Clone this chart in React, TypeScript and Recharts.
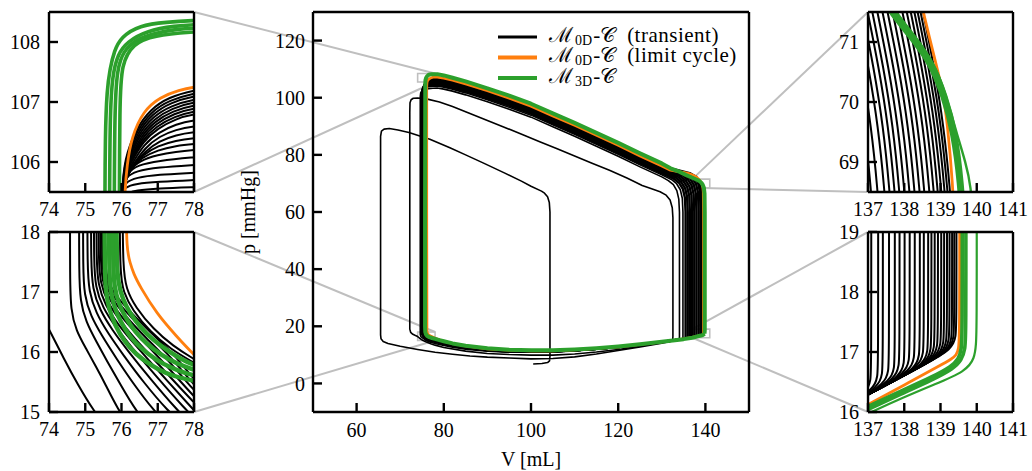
import React from 'react';
import { LineChart, Line, XAxis, YAxis, ReferenceArea, Label } from 'recharts';

type Pair = [number, number];

// ---- axes ----
const MAIN_V_DOMAIN: Pair = [50, 150];
const MAIN_P_DOMAIN: Pair = [-10, 130];
const MAIN_V_TICKS = [60, 80, 100, 120, 140];
const MAIN_P_TICKS = [0, 20, 40, 60, 80, 100, 120];

const TL_V: Pair = [74, 78];
const TL_P: Pair = [105.5, 108.5];
const BL_V: Pair = [74, 78];
const BL_P: Pair = [15, 18];
const TR_V: Pair = [137, 141];
const TR_P: Pair = [68.5, 71.5];
const BR_V: Pair = [137, 141];
const BR_P: Pair = [16, 19];

const LEFT_V_TICKS = [74, 75, 76, 77, 78];
const RIGHT_V_TICKS = [137, 138, 139, 140, 141];
const TL_P_TICKS = [106, 107, 108];
const BL_P_TICKS = [15, 16, 17, 18];
const TR_P_TICKS = [69, 70, 71];
const BR_P_TICKS = [16, 17, 18, 19];

// ---- main panel: transient beats of the 0D model, [V mL, p mmHg] ----
const beat01: Pair[] = [[100.5,6.8],[102.5,7.0],[103.8,7.3],[104.25,7.9],[104.35,9.5],[104.35,30],[104.35,60],[104.2,63.3],[103.8,65.3],[103.1,66.6],[102.4,67.3],[100,69.0],[97.8,70.8],[94,73.6],[89,77.2],[85,80.0],[81.4,82.5],[76.8,85.5],[72,87.8],[69.5,88.7],[67.5,89.2],[66.3,89.0],[65.7,88.3],[65.5,86.5],[65.5,50],[65.5,17],[65.6,15.6],[66.1,14.7],[67.2,14.0],[70,13.0],[74,11.9],[78,10.9],[82,10.2],[86,9.6],[90,9.2],[95,8.9],[100,8.6],[105,8.7],[110,9.3],[115,10.3],[120,11.5],[125,12.8],[130,14.1],[132.2,14.8],[132.5,15.3]];
const beat02: Pair[] = [[132.5,15.3],[132.55,16.5],[132.55,30],[132.55,58],[132.4,61.5],[131.9,64.2],[131,65.9],[129.6,67.1],[127.5,68.2],[125.5,69.3],[124,70.4],[122,71.9],[118,74.6],[114,77.1],[110,79.6],[106,82.1],[102,84.6],[98,87.1],[94,89.6],[90,92.0],[86,94.5],[82,96.9],[79,98.5],[76,99.6],[74,99.9],[73,99.8],[72.5,99.3],[72.25,98.2],[72.2,95],[72.2,40],[72.2,19],[72.4,17.9],[72.9,17.2],[73.5,16.75],[74,16.4],[74.4,15.9],[74.8,15.45],[75.25,15.0],[76,14.5],[77,13.9],[78,13.4],[80,12.6],[85,11.3],[90,10.5],[95,10.1],[100,9.9],[105,9.9],[110,10.3],[115,11.0],[120,11.9],[125,13.0],[130,14.3],[133.5,15.25],[134.0,15.4]];
const beat03: Pair[] = [[134.0,15.4],[134.05,16.2],[134.05,30],[134.05,60],[133.9,64.5],[133.45,67.5],[132.65,69.6],[131.5,71.0],[130,72.3],[125,75.8],[120,79.5],[115,83.0],[110,86.5],[105,89.8],[100,93.2],[95,96.0],[90,98.6],[85,101.0],[82,102.3],[80,103.0],[78.5,103.4],[77.5,103.3],[75.5,103.0],[75.0,102.5],[74.7,101.7],[74.6,100.4],[74.6,60],[74.6,18.5],[74.6,17.2],[74.75,16.35],[75.02,16.06],[75.54,15.48],[75.91,15.03],[77,14.4],[78,14.0],[80,13.3],[82,12.7],[85,12.0],[90,11.25],[95,10.95],[100,10.9],[105,11.02],[110,11.42],[115,12.0],[120,12.68],[125,13.54],[130,14.5],[134.3,15.45],[134.8,15.55]];
const beat04: Pair[] = [[134.8,15.55],[134.85,16.3],[134.85,60],[134.7,64.8],[134.25,67.8],[133.4,69.9],[132.2,71.4],[130,73.0],[125,76.5],[120,80.2],[115,83.7],[110,87.2],[105,90.5],[100,93.9],[95,96.7],[90,99.3],[85,101.7],[82,103.0],[80,103.7],[78.5,104.1],[77.5,104.0],[75.75,103.7],[75.25,103.2],[74.95,102.4],[74.85,101.1],[74.85,60],[74.85,18.5],[74.9,17.3],[75.15,16.6],[75.65,15.85],[76.4,15.0],[78,14.4],[80,13.65],[82,13.0],[85,12.25],[90,11.45],[95,11.1],[100,11.02],[105,11.11],[110,11.49],[115,12.05],[120,12.71],[125,13.56],[130,14.5],[134.9,15.58],[135.4,15.7]];
const beat05: Pair[] = [[135.4,15.7],[135.45,16.4],[135.45,60],[135.3,65],[134.85,68],[134.0,70.1],[132.6,71.8],[130,73.5],[125,77.0],[120,80.7],[115,84.2],[110,87.7],[105,91.0],[100,94.4],[95,97.2],[90,99.8],[85,102.2],[82,103.5],[80,104.2],[78.5,104.6],[77.5,104.5],[75.9,104.2],[75.4,103.7],[75.1,102.9],[75.0,101.6],[75.0,60],[75.0,18.5],[75.05,17.3],[75.3,16.6],[75.8,15.9],[76.9,15.0],[78,14.65],[80,13.85],[82,13.18],[85,12.4],[90,11.56],[95,11.18],[100,11.08],[105,11.16],[110,11.53],[115,12.08],[120,12.73],[125,13.57],[130,14.5],[135,15.6],[135.9,15.85]];
const beat06: Pair[] = [[135.9,15.85],[135.95,16.5],[135.95,60],[135.8,65.3],[135.35,68.3],[134.5,70.4],[133.1,72.1],[130,73.9],[125,77.4],[120,81.1],[115,84.6],[110,88.1],[105,91.4],[100,94.8],[95,97.6],[90,100.2],[85,102.6],[82,103.9],[80,104.6],[78.5,105.0],[77.5,104.9],[76.02,104.6],[75.52,104.1],[75.22,103.3],[75.12,102.0],[75.12,60],[75.12,18.5],[75.17,17.3],[75.42,16.6],[75.92,15.9],[77.3,15.0],[78,14.8],[80,13.98],[82,13.3],[85,12.5],[90,11.64],[95,11.24],[100,11.13],[105,11.2],[110,11.56],[115,12.1],[120,12.74],[125,13.57],[130,14.5],[135,15.6],[136.4,16.0]];
const beat07: Pair[] = [[136.4,16.0],[136.45,16.6],[136.45,60],[136.3,65.6],[135.85,68.6],[135.0,70.7],[133.6,72.4],[131.5,73.5],[130,74.3],[125,77.8],[120,81.5],[115,85.0],[110,88.5],[105,91.8],[100,95.2],[95,98.0],[90,100.6],[85,103.0],[82,104.3],[80,105.0],[78.5,105.4],[77.5,105.3],[76.14,105.0],[75.64,104.5],[75.34,103.7],[75.24,102.4],[75.24,60],[75.24,18.5],[75.29,17.3],[75.54,16.6],[76.04,15.95],[77.55,15.05],[78,14.95],[80,14.07],[82,13.37],[85,12.57],[90,11.69],[95,11.28],[100,11.16],[105,11.21],[110,11.56],[115,12.1],[120,12.74],[125,13.57],[130,14.5],[135,15.6],[136.9,16.12]];
const beat08: Pair[] = [[136.9,16.12],[136.95,16.75],[136.95,60],[136.8,65.9],[136.35,68.9],[135.5,71.0],[134.1,72.7],[132,73.8],[130,74.6],[125,78.1],[120,81.8],[115,85.3],[110,88.8],[105,92.1],[100,95.5],[95,98.3],[90,100.9],[85,103.3],[82,104.6],[80,105.3],[78.5,105.7],[77.5,105.6],[76.24,105.3],[75.74,104.8],[75.44,104.0],[75.34,102.7],[75.34,60],[75.34,18.5],[75.39,17.3],[75.64,16.6],[76.14,16.0],[77.0,15.5],[78,15.1],[80,14.19],[82,13.47],[85,12.66],[90,11.75],[95,11.34],[100,11.2],[105,11.24],[110,11.59],[115,12.12],[120,12.75],[125,13.58],[130,14.5],[135,15.6],[137,16.15],[137.4,16.28]];
const beat09: Pair[] = [[137.4,16.28],[137.45,16.9],[137.45,60],[137.3,66.2],[136.85,69.2],[136.0,71.3],[134.6,73.0],[132.5,74.0],[130,74.9],[125,78.4],[120,82.1],[115,85.6],[110,89.1],[105,92.4],[100,95.8],[95,98.6],[90,101.2],[85,103.6],[82,104.9],[80,105.6],[78.5,106.0],[77.5,105.9],[76.33,105.6],[75.83,105.1],[75.53,104.3],[75.43,103.0],[75.43,60],[75.43,18.5],[75.48,17.3],[75.73,16.6],[76.23,16.05],[77.0,15.6],[78,15.2],[80,14.27],[82,13.54],[85,12.72],[90,11.8],[95,11.37],[100,11.22],[105,11.26],[110,11.6],[115,12.13],[120,12.76],[125,13.58],[130,14.5],[135,15.6],[137,16.15],[137.9,16.45]];
const beat10: Pair[] = [[137.9,16.45],[137.95,17.0],[137.95,60],[137.8,66.5],[137.35,69.5],[136.5,71.6],[135.1,73.2],[132.5,74.3],[130,75.2],[125,78.7],[120,82.4],[115,85.9],[110,89.4],[105,92.7],[100,96.1],[95,98.9],[90,101.5],[85,103.9],[82,105.2],[80,105.9],[78.5,106.3],[77.5,106.2],[76.4,105.9],[75.9,105.4],[75.6,104.6],[75.5,103.3],[75.5,60],[75.5,18.5],[75.55,17.3],[75.8,16.65],[76.3,16.1],[77.0,15.7],[78,15.33],[80,14.38],[82,13.64],[85,12.79],[90,11.86],[95,11.42],[100,11.26],[105,11.29],[110,11.62],[115,12.14],[120,12.77],[125,13.58],[130,14.5],[135,15.6],[137,16.15],[138.4,16.62]];
const beat11: Pair[] = [[138.4,16.62],[138.45,17.1],[138.45,60],[138.3,66.8],[137.85,69.8],[137.0,71.9],[135.6,73.3],[133,74.5],[130,75.45],[125,78.95],[120,82.65],[115,86.15],[110,89.65],[105,92.95],[100,96.35],[95,99.15],[90,101.75],[85,104.15],[82,105.45],[80,106.15],[78.5,106.55],[77.5,106.45],[76.5,106.15],[76.0,105.65],[75.7,104.85],[75.6,103.55],[75.6,60],[75.6,18.5],[75.65,17.3],[75.9,16.7],[76.4,16.15],[77.0,15.8],[78,15.44],[80,14.47],[82,13.71],[85,12.86],[90,11.91],[95,11.46],[100,11.29],[105,11.31],[110,11.64],[115,12.15],[120,12.77],[125,13.59],[130,14.5],[135,15.6],[137,16.15],[138.85,16.78]];
const beat12: Pair[] = [[138.85,16.78],[138.9,17.2],[138.9,60],[138.75,67.0],[138.35,70.0],[137.5,72.1],[136.0,73.4],[133,74.7],[130,75.7],[125,79.2],[120,82.9],[115,86.4],[110,89.9],[105,93.2],[100,96.6],[95,99.4],[90,102.0],[85,104.4],[82,105.7],[80,106.4],[78.5,106.8],[77.5,106.7],[76.7,106.4],[76.2,105.9],[75.9,105.1],[75.8,103.8],[75.8,60],[75.8,18.5],[75.85,17.3],[76.1,16.75],[76.6,16.2],[77.2,15.85],[78,15.53],[80,14.54],[82,13.78],[85,12.91],[90,11.95],[95,11.49],[100,11.31],[105,11.33],[110,11.65],[115,12.16],[120,12.78],[125,13.59],[130,14.5],[135,15.6],[137,16.15],[139.2,16.9]];
const beat13: Pair[] = [[139.2,16.9],[139.25,17.3],[139.25,60],[139.1,67.2],[138.7,70.2],[137.9,72.3],[136.4,73.6],[133,74.9],[130,75.9],[125,79.4],[120,83.1],[115,86.6],[110,90.1],[105,93.4],[100,96.8],[95,99.6],[90,102.2],[85,104.6],[82,105.9],[80,106.6],[78.5,107.0],[77.5,106.9],[76.9,106.6],[76.4,106.1],[76.1,105.3],[76.0,104.0],[76.0,60],[76.0,18.5],[76.05,17.4],[76.3,16.8],[76.8,16.25],[77.3,15.95],[78,15.75],[80,14.72],[82,13.94],[85,13.06],[90,12.07],[95,11.58],[100,11.39],[105,11.39],[110,11.69],[115,12.19],[120,12.8],[125,13.6],[130,14.5],[135,15.6],[137,16.15],[139,16.85],[139.5,17.05]];
const earlyBeats = [beat01, beat02, beat03, beat04];
const lateBeats = [beat05, beat06, beat07, beat08, beat09, beat10, beat11, beat12, beat13];

const limitCycle0D: Pair[] = [[139.5,17.05],[139.55,17.5],[139.55,60],[139.5,67],[139.4,68.8],[139.2,69.8],[138.95,70.6],[138.55,71.4],[138.0,72.2],[137.2,72.9],[136.2,73.5],[135,73.9],[133.5,74.2],[132,74.6],[130,76.1],[125,79.6],[120,83.3],[115,86.8],[110,90.3],[105,93.6],[100,97.0],[95,99.8],[90,102.4],[85,104.8],[82,106.1],[80,106.8],[78.5,107.2],[77.5,107.15],[77,106.9],[76.6,106.5],[76.3,106.0],[76.15,105.3],[76.1,104],[76.1,60],[76.15,18.5],[76.25,17.5],[76.55,17.0],[77.1,16.5],[77.7,16.1],[78,15.85],[80,14.8],[82,14.0],[85,13.1],[90,12.1],[95,11.6],[100,11.4],[105,11.4],[110,11.7],[115,12.2],[120,12.8],[125,13.6],[130,14.5],[135,15.6],[137,16.15],[139,16.85],[139.5,17.05]];
const cycle3D: Pair[] = [[139.8,17.4],[139.85,18.5],[139.85,60],[139.8,66.5],[139.65,68.5],[139.4,69.5],[139.1,70.2],[138.6,70.9],[137.8,71.45],[137,72.0],[135.5,73.0],[134,74.1],[132,75.3],[130,77.0],[125,80.5],[120,84.2],[115,87.7],[110,91.2],[105,94.5],[100,97.9],[95,100.7],[90,103.3],[85,105.7],[82,107.0],[80,107.8],[78.5,108.25],[77.2,108.25],[76.6,108.05],[76.2,107.6],[75.95,107.0],[75.8,106.2],[75.75,105],[75.7,60],[75.7,20],[75.75,18],[75.9,17.2],[76.2,16.6],[76.7,16.2],[77.3,15.9],[78,15.6],[79,15.15],[80,14.75],[82,14.0],[85,13.2],[90,12.3],[95,11.8],[100,11.6],[105,11.6],[110,11.9],[115,12.35],[120,12.95],[125,13.7],[130,14.55],[135,15.5],[137,16.0],[138,16.4],[139,16.75],[139.5,17.0],[139.8,17.4]];

// ---- inset top-left (end of relaxation / start of ejection peak) ----
const tlBlack: Pair[][] = [
  [[75.98,104.5],[76.02,105.8],[76.15,106.15],[76.4,106.55],[76.8,106.88],[77.3,107.08],[78,107.2],[78.5,107.23]],
  [[75.98,104.5],[76.02,105.78],[76.16,106.12],[76.42,106.52],[76.82,106.84],[77.32,107.03],[78,107.15],[78.5,107.18]],
  [[75.98,104.5],[76.02,105.75],[76.18,106.1],[76.45,106.5],[76.85,106.8],[77.35,106.99],[78,107.1],[78.5,107.13]],
  [[75.98,104.5],[76.02,105.73],[76.19,106.07],[76.47,106.47],[76.87,106.76],[77.37,106.94],[78,107.05],[78.5,107.07]],
  [[75.98,104.5],[76.02,105.72],[76.2,106.05],[76.5,106.45],[76.9,106.72],[77.4,106.9],[78,107.0],[78.5,107.02]],
  [[75.98,104.5],[76.02,105.71],[76.21,106.02],[76.52,106.42],[76.92,106.68],[77.42,106.85],[78,106.95],[78.5,106.97]],
  [[75.98,104.5],[76.02,105.7],[76.22,106.0],[76.55,106.4],[76.95,106.64],[77.45,106.81],[78,106.9],[78.5,106.92]],
  [[75.98,104.5],[76.02,105.69],[76.23,105.99],[76.57,106.37],[76.97,106.6],[77.47,106.76],[78,106.85],[78.5,106.87]],
  [[75.98,104.5],[76.02,105.68],[76.25,105.98],[76.6,106.35],[77.0,106.56],[77.5,106.72],[78,106.8],[78.5,106.82]],
  [[75.98,104.6],[76.02,105.66],[76.28,105.96],[76.62,106.3],[77.05,106.5],[77.5,106.63],[78,106.7],[78.5,106.72]],
  [[75.98,104.7],[76.02,105.64],[76.3,105.94],[76.65,106.24],[77.05,106.43],[77.5,106.54],[78,106.6],[78.5,106.62]],
  [[75.98,104.8],[76.02,105.62],[76.3,105.93],[76.65,106.18],[77.05,106.35],[77.5,106.45],[78,106.5],[78.5,106.52]],
  [[75.98,104.8],[76.02,105.6],[76.28,105.92],[76.6,106.12],[77.0,106.27],[77.5,106.36],[78,106.4],[78.5,106.42]],
  [[75.98,104.8],[76.02,105.6],[76.25,105.9],[76.55,106.07],[77.0,106.2],[77.5,106.27],[78,106.3],[78.5,106.32]],
  [[75.98,104.8],[76.02,105.58],[76.2,105.86],[76.5,106.02],[77.0,106.12],[77.5,106.17],[78,106.2],[78.5,106.22]],
  [[75.98,104.8],[76.01,105.55],[76.15,105.82],[76.45,105.95],[77.0,106.02],[78,106.08],[78.5,106.1]],
  [[75.98,104.8],[76.0,105.55],[76.12,105.75],[76.4,105.85],[77.0,105.91],[78,105.95],[78.5,105.97]],
  [[75.97,104.8],[75.99,105.5],[76.1,105.66],[76.4,105.74],[77.0,105.79],[78,105.82],[78.5,105.84]],
  [[75.96,104.8],[75.98,105.45],[76.08,105.58],[76.4,105.64],[77.0,105.67],[78,105.7],[78.5,105.71]],
  [[75.95,104.8],[75.97,105.35],[76.1,105.47],[76.4,105.53],[77.0,105.56],[78,105.58],[78.5,105.59]],
];
const tlOrange: Pair[] = [[76.08,105.0],[76.09,105.5],[76.15,105.95],[76.28,106.42],[76.6,106.85],[77.06,107.08],[77.6,107.2],[78,107.25],[78.5,107.28]];
const tlGreen: Pair[][] = [
  [[75.54,105.0],[75.55,106.5],[75.6,107.2],[75.68,107.55],[75.8,107.85],[75.98,108.08],[76.5,108.28],[77.24,108.33],[78,108.36],[78.5,108.37]],
  [[75.67,105.0],[75.68,106.8],[75.75,107.45],[75.9,107.8],[76.15,108.0],[76.7,108.19],[77.5,108.27],[78,108.29],[78.5,108.3]],
  [[75.8,105.0],[75.81,106.9],[75.88,107.55],[76.05,107.85],[76.4,108.04],[76.9,108.15],[77.6,108.22],[78,108.23],[78.5,108.24]],
  [[75.94,105.0],[75.95,107.0],[76.0,107.64],[76.32,107.97],[76.87,108.11],[78,108.17],[78.5,108.18]],
];

// ---- inset bottom-left (end of relaxation / start of filling) ----
const blBlack: Pair[][] = [
  [[73.8,16.6],[74,16.38],[74.4,15.9],[74.8,15.45],[75.25,15.0],[75.6,14.75]],
  [[74.58,18.5],[74.58,17.2],[74.6,16.7],[74.75,16.35],[75.02,16.06],[75.3,15.75],[75.54,15.48],[75.91,15.03],[76.2,14.8]],
  [[74.83,18.5],[74.83,17.3],[74.86,16.85],[75.02,16.5],[75.3,16.18],[75.6,15.85],[75.95,15.48],[76.41,15.0],[76.8,14.75]],
  [[74.94,18.5],[74.94,17.4],[74.97,16.95],[75.15,16.6],[75.45,16.28],[75.85,15.9],[76.35,15.45],[76.92,15.0],[77.3,14.78]],
  [[75.06,18.5],[75.06,17.45],[75.1,17.0],[75.3,16.65],[75.62,16.32],[76.05,15.95],[76.6,15.5],[77.3,15.0],[77.7,14.8]],
  [[75.16,18.5],[75.16,17.5],[75.2,17.05],[75.4,16.7],[75.74,16.37],[76.2,16.0],[76.8,15.55],[77.55,15.02],[77.9,14.82]],
  [[75.24,18.5],[75.24,17.5],[75.28,17.08],[75.48,16.74],[75.83,16.42],[76.3,16.06],[76.95,15.6],[77.75,15.05],[78.1,14.85]],
  [[75.31,18.5],[75.31,17.55],[75.35,17.12],[75.55,16.78],[75.9,16.46],[76.4,16.1],[77.1,15.63],[77.92,15.08],[78.2,14.9]],
  [[75.37,18.5],[75.37,17.55],[75.41,17.15],[75.62,16.82],[75.98,16.5],[76.5,16.13],[77.2,15.68],[78,15.15],[78.3,15.0]],
  [[75.42,18.5],[75.42,17.6],[75.46,17.18],[75.67,16.86],[76.04,16.55],[76.57,16.2],[77.28,15.75],[78,15.25],[78.3,15.1]],
  [[75.46,18.5],[75.46,17.6],[75.5,17.2],[75.72,16.9],[76.1,16.6],[76.65,16.25],[77.35,15.83],[78,15.35],[78.3,15.2]],
  [[75.5,18.5],[75.5,17.6],[75.54,17.22],[75.76,16.93],[76.15,16.65],[76.7,16.3],[77.4,15.9],[78,15.44],[78.3,15.3]],
  [[75.54,18.5],[75.54,17.6],[75.58,17.24],[75.8,16.96],[76.2,16.7],[76.75,16.35],[77.45,15.97],[78,15.53],[78.3,15.4]],
  [[75.95,18.5],[75.96,17.3],[76.05,17.0],[76.3,16.7],[76.8,16.33],[77.35,16.05],[78,15.82],[78.3,15.72]],
  [[76.03,18.5],[76.04,17.4],[76.13,17.05],[76.38,16.75],[76.88,16.38],[77.42,16.1],[78,15.88],[78.3,15.78]],
];
const blOrange: Pair[] = [[76.13,18.5],[76.14,17.7],[76.24,17.48],[76.33,17.31],[76.51,17.09],[76.97,16.64],[77.52,16.26],[78,15.95],[78.3,15.8]];
const blGreen: Pair[][] = [
  [[75.53,18.5],[75.54,17.3],[75.57,17.0],[75.66,16.7],[75.82,16.45],[76.07,16.18],[76.4,15.96],[76.8,15.78],[77.2,15.65],[77.6,15.57],[78,15.52],[78.3,15.49]],
  [[75.65,18.5],[75.66,17.35],[75.69,17.05],[75.79,16.76],[75.96,16.52],[76.22,16.26],[76.55,16.05],[76.95,15.87],[77.35,15.74],[77.7,15.66],[78,15.61],[78.3,15.58]],
  [[75.76,18.5],[75.77,17.4],[75.8,17.1],[75.91,16.82],[76.1,16.58],[76.38,16.33],[76.7,16.13],[77.1,15.95],[77.5,15.81],[78,15.7],[78.3,15.65]],
  [[75.86,18.5],[75.87,17.45],[75.91,17.15],[76.03,16.88],[76.23,16.65],[76.52,16.41],[76.85,16.21],[77.25,16.03],[77.65,15.88],[78,15.78],[78.3,15.73]],
];

// ---- inset top-right (end of isovolumic contraction) ----
const trBlack: Pair[][] = [
  [[136.03,72],[136.2,71.5],[136.5,70.6],[136.77,69.6],[136.95,68.5],[137.0,68]],
  [[136.17,72],[136.34,71.5],[136.64,70.6],[136.91,69.6],[137.09,68.5],[137.14,68]],
  [[136.35,72],[136.52,71.5],[136.82,70.6],[137.09,69.6],[137.27,68.5],[137.32,68]],
  [[136.54,72],[136.71,71.5],[137.01,70.6],[137.28,69.6],[137.46,68.5],[137.51,68]],
  [[136.68,72],[136.85,71.5],[137.15,70.6],[137.42,69.6],[137.6,68.5],[137.65,68]],
  [[136.82,72],[136.99,71.5],[137.29,70.6],[137.56,69.6],[137.74,68.5],[137.79,68]],
  [[136.95,72],[137.12,71.5],[137.42,70.6],[137.69,69.6],[137.87,68.5],[137.92,68]],
  [[137.09,72],[137.26,71.5],[137.56,70.6],[137.83,69.6],[138.01,68.5],[138.06,68]],
  [[137.23,72],[137.4,71.5],[137.7,70.6],[137.97,69.6],[138.15,68.5],[138.2,68]],
  [[137.37,72],[137.54,71.5],[137.84,70.6],[138.11,69.6],[138.29,68.5],[138.34,68]],
  [[137.51,72],[137.68,71.5],[137.98,70.6],[138.25,69.6],[138.43,68.5],[138.48,68]],
  [[137.64,72],[137.81,71.5],[138.11,70.6],[138.38,69.6],[138.56,68.5],[138.61,68]],
  [[137.78,72],[137.95,71.5],[138.25,70.6],[138.52,69.6],[138.7,68.5],[138.75,68]],
  [[137.9,72],[138.07,71.5],[138.37,70.6],[138.64,69.6],[138.82,68.5],[138.87,68]],
  [[138.01,72],[138.18,71.5],[138.48,70.6],[138.75,69.6],[138.93,68.5],[138.98,68]],
  [[138.11,72],[138.28,71.5],[138.58,70.6],[138.85,69.6],[139.03,68.5],[139.08,68]],
  [[138.2,72],[138.37,71.5],[138.67,70.6],[138.94,69.6],[139.12,68.5],[139.17,68]],
  [[138.28,72],[138.45,71.5],[138.75,70.6],[139.02,69.6],[139.2,68.5],[139.25,68]],
  [[138.35,72],[138.52,71.5],[138.82,70.6],[139.09,69.6],[139.27,68.5],[139.32,68]],
];
const trOrange: Pair[] = [[138.35,72.0],[138.52,71.5],[138.89,70.6],[139.07,70.16],[139.2,69.6],[139.34,68.6],[139.38,68.0]];
const trGreen: Pair[][] = [
  [[137.1,72.0],[137.6,71.5],[138.15,71.1],[138.7,70.66],[139.07,70.1],[139.34,69.5],[139.53,68.6],[139.58,68.0]],
  [[137.2,72.0],[137.7,71.5],[138.25,71.1],[138.78,70.66],[139.15,70.1],[139.42,69.5],[139.6,68.6],[139.65,68.0]],
];
const trGreenThin: Pair[] = [[137.3,72.0],[137.75,71.5],[138.3,71.1],[138.85,70.62],[139.1,70.2],[139.3,69.8],[139.44,69.49],[139.7,68.98],[139.84,68.6],[139.9,68.0]];

// ---- inset bottom-right (end of filling / start of contraction) ----
const brBlack: Pair[][] = [
  [[137.09,19.5],[137.09,16.71],[137.07,16.53],[137.01,16.41],[136.89,16.32],[136.69,16.21],[136.5,16.13]],
  [[137.28,19.5],[137.28,16.77],[137.26,16.59],[137.2,16.47],[137.08,16.38],[136.88,16.27],[136.5,16.13]],
  [[137.41,19.5],[137.41,16.81],[137.39,16.63],[137.33,16.51],[137.21,16.42],[137.01,16.31],[136.5,16.13]],
  [[137.58,19.5],[137.58,16.86],[137.56,16.68],[137.5,16.56],[137.38,16.47],[137.18,16.36],[136.5,16.13]],
  [[137.74,19.5],[137.74,16.91],[137.72,16.73],[137.66,16.61],[137.54,16.52],[137.34,16.41],[136.5,16.13]],
  [[137.87,19.5],[137.87,16.95],[137.85,16.77],[137.79,16.65],[137.67,16.56],[137.47,16.45],[136.5,16.13]],
  [[138.01,19.5],[138.01,16.99],[137.99,16.81],[137.93,16.69],[137.81,16.6],[137.61,16.49],[136.5,16.13]],
  [[138.15,19.5],[138.15,17.04],[138.13,16.86],[138.07,16.74],[137.95,16.65],[137.75,16.54],[136.5,16.13]],
  [[138.29,19.5],[138.29,17.08],[138.27,16.9],[138.21,16.78],[138.09,16.69],[137.89,16.58],[136.5,16.13]],
  [[138.43,19.5],[138.43,17.12],[138.41,16.94],[138.35,16.82],[138.23,16.73],[138.03,16.62],[136.5,16.13]],
  [[138.54,19.5],[138.54,17.16],[138.52,16.98],[138.46,16.86],[138.34,16.77],[138.14,16.66],[136.5,16.13]],
  [[138.66,19.5],[138.66,17.19],[138.64,17.01],[138.58,16.89],[138.46,16.8],[138.26,16.69],[136.5,16.13]],
  [[138.75,19.5],[138.75,17.22],[138.73,17.04],[138.67,16.92],[138.55,16.83],[138.35,16.72],[136.5,16.13]],
  [[138.84,19.5],[138.84,17.25],[138.82,17.07],[138.76,16.95],[138.64,16.86],[138.44,16.75],[136.5,16.13]],
  [[138.93,19.5],[138.93,17.28],[138.91,17.1],[138.85,16.98],[138.73,16.89],[138.53,16.78],[136.5,16.13]],
  [[139.02,19.5],[139.02,17.31],[139.0,17.13],[138.94,17.01],[138.82,16.92],[138.62,16.81],[136.5,16.13]],
  [[139.1,19.5],[139.1,17.33],[139.08,17.15],[139.02,17.03],[138.9,16.94],[138.7,16.83],[136.5,16.13]],
  [[139.18,19.5],[139.18,17.36],[139.16,17.18],[139.1,17.06],[138.98,16.97],[138.78,16.86],[136.5,16.13]],
  [[139.25,19.5],[139.25,17.38],[139.23,17.2],[139.17,17.08],[139.05,16.99],[138.85,16.88],[136.5,16.13]],
  [[139.32,19.5],[139.32,17.4],[139.3,17.22],[139.24,17.1],[139.12,17.01],[138.92,16.9],[136.5,16.13]],
  [[139.38,19.5],[139.38,17.42],[139.36,17.24],[139.3,17.12],[139.18,17.03],[138.98,16.92],[136.5,16.13]],
  [[139.44,19.5],[139.44,17.44],[139.42,17.26],[139.36,17.14],[139.24,17.05],[139.04,16.94],[136.5,16.13]],
];
const brOrange: Pair[] = [[136.5,15.97],[137.09,16.15],[138,16.45],[139,16.78],[139.3,16.88],[139.44,16.95],[139.5,17.05],[139.53,17.25],[139.53,19.5]];
const brGreen: Pair[][] = [
  [[136.5,15.95],[137.09,16.12],[137.87,16.34],[138.79,16.59],[139.3,16.76],[139.5,16.88],[139.58,17.05],[139.6,17.3],[139.6,19.5]],
  [[136.5,15.9],[137.09,16.07],[137.87,16.29],[138.79,16.54],[139.35,16.72],[139.58,16.86],[139.68,17.05],[139.7,17.3],[139.7,19.5]],
];
const brGreenThin: Pair[] = [[136.5,15.83],[137.09,16.0],[138.0,16.25],[138.79,16.45],[139.71,16.68],[139.94,16.9],[139.98,17.12],[140.0,17.4],[140.0,19.5]];

// ---- legend ----
const LEGEND = [
  { color: '#000', width: 3, sub: '0D', note: '(transient)' },
  { color: '#ff7f0e', width: 4, sub: '0D', note: '(limit cycle)' },
  { color: '#2ca02c', width: 4, sub: '3D', note: '' },
];

// ---- styling ----
const ORANGE = '#ff7f0e';
const GREEN = '#2ca02c';
const GREY = '#bfbfbf';
const FONT = '"Liberation Serif", "DejaVu Serif", serif';
const FONT_SIZE = 20;
const TICK = 9;

interface Box {
  left: number;
  top: number;
  width: number;
  height: number;
  margin: { top: number; right: number; bottom: number; left: number };
  yWidth: number;
  xHeight: number;
  xGap: number;
  yGap: number;
}

const MAIN_BOX: Box = { left: 226, top: 0, width: 544, height: 471, margin: { top: 11, right: 20, bottom: 19, left: 37 }, yWidth: 50, xHeight: 40, xGap: 11, yGap: 8 };
const TL_BOX: Box = { left: 0, top: 0, width: 212, height: 219, margin: { top: 11, right: 17, bottom: 5, left: 9 }, yWidth: 40, xHeight: 22, xGap: 10, yGap: 9 };
const BL_BOX: Box = { ...TL_BOX, top: 220 };
const TR_BOX: Box = { left: 820, top: 0, width: 212, height: 219, margin: { top: 11, right: 18, bottom: 5, left: 8 }, yWidth: 40, xHeight: 22, xGap: 10, yGap: 9 };
const BR_BOX: Box = { ...TR_BOX, top: 220 };

function plotRect(b: Box) {
  return {
    x0: b.left + b.margin.left + b.yWidth,
    x1: b.left + b.width - b.margin.right - 1,
    y0: b.top + b.margin.top + 1,
    y1: b.top + b.height - b.margin.bottom - b.xHeight,
  };
}

const toPts = (c: Pair[]) => c.map(([v, p]) => ({ v, p }));

function curve(key: string, c: Pair[], color: string, width: number, smooth = false) {
  return (
    <Line
      key={key}
      xAxisId="b"
      yAxisId="l"
      data={toPts(c)}
      dataKey="p"
      type={smooth ? 'basis' : 'linear'}
      stroke={color}
      strokeWidth={width}
      strokeLinejoin="round"
      dot={false}
      activeDot={false}
      legendType="none"
      isAnimationActive={false}
    />
  );
}

function axes(b: Box, vDomain: Pair, pDomain: Pair, vTicks: number[], pTicks: number[], withLabels = false) {
  const frame = { stroke: '#000', strokeWidth: 2.4 };
  const tick = { fill: '#000', fontSize: FONT_SIZE, fontFamily: FONT };
  return [
    <XAxis key="xb" xAxisId="b" type="number" dataKey="v" domain={vDomain} allowDataOverflow ticks={vTicks} interval={0}
      height={b.xHeight} tickSize={-TICK} tickMargin={TICK + b.xGap} axisLine={frame} tickLine={frame} tick={tick}>
      {withLabels ? <Label value="V [mL]" position="bottom" offset={0} fill="#000" fontSize={FONT_SIZE} fontFamily={FONT} /> : null}
    </XAxis>,
    <XAxis key="xt" xAxisId="t" orientation="top" type="number" dataKey="v" domain={vDomain} allowDataOverflow ticks={vTicks} interval={0}
      height={1} tickSize={-TICK} axisLine={frame} tickLine={frame} tick={false} />,
    <YAxis key="yl" yAxisId="l" type="number" dataKey="p" domain={pDomain} allowDataOverflow ticks={pTicks} interval={0}
      width={b.yWidth} tickSize={-TICK} tickMargin={TICK + b.yGap} axisLine={frame} tickLine={frame} tick={tick}>
      {withLabels ? <Label value="p [mmHg]" angle={-90} position="insideLeft" offset={-15} fill="#000" fontSize={FONT_SIZE} fontFamily={FONT} style={{ textAnchor: 'middle' }} /> : null}
    </YAxis>,
    <YAxis key="yr" yAxisId="r" orientation="right" type="number" dataKey="p" domain={pDomain} allowDataOverflow ticks={pTicks} interval={0}
      width={1} tickSize={-TICK} axisLine={frame} tickLine={frame} tick={false} />,
  ];
}

function Panel({ box, children }: { box: Box; children: React.ReactNode }) {
  return (
    <div style={{ position: 'absolute', left: box.left, top: box.top }}>
      <LineChart width={box.width} height={box.height} margin={box.margin}>
        {children}
      </LineChart>
    </div>
  );
}

function Overlay() {
  const m = plotRect(MAIN_BOX);
  const mx = (v: number) => m.x0 + ((v - MAIN_V_DOMAIN[0]) / (MAIN_V_DOMAIN[1] - MAIN_V_DOMAIN[0])) * (m.x1 - m.x0);
  const my = (p: number) => m.y1 - ((p - MAIN_P_DOMAIN[0]) / (MAIN_P_DOMAIN[1] - MAIN_P_DOMAIN[0])) * (m.y1 - m.y0);
  const tl = plotRect(TL_BOX);
  const bl = plotRect(BL_BOX);
  const tr = plotRect(TR_BOX);
  const br = plotRect(BR_BOX);
  const links = [
    [tl.x1, tl.y0, mx(TL_V[1]), my(TL_P[1])],
    [tl.x1, tl.y1, mx(TL_V[1]), my(TL_P[0])],
    [bl.x1, bl.y0, mx(BL_V[1]), my(BL_P[1])],
    [bl.x1, bl.y1, mx(BL_V[1]), my(BL_P[0])],
    [tr.x0, tr.y0, mx(TR_V[0]), my(TR_P[1])],
    [tr.x0, tr.y1, mx(TR_V[0]), my(TR_P[0])],
    [br.x0, br.y0, mx(BR_V[0]), my(BR_P[1])],
    [br.x0, br.y1, mx(BR_V[0]), my(BR_P[0])],
  ];
  return (
    <svg width={1032} height={471} style={{ position: 'absolute', left: 0, top: 0 }}>
      {links.map(([x1, y1, x2, y2], i) => (
        <line key={i} x1={x1} y1={y1} x2={x2} y2={y2} stroke={GREY} strokeWidth={2} />
      ))}
      {LEGEND.map((e, i) => {
        const y = 37 + i * 20.5;
        return (
          <g key={e.sub + i}>
            <line x1={498} x2={537} y1={y} y2={y} stroke={e.color} strokeWidth={e.width} />
            <text x={549} y={y + 4.5} fontFamily={FONT} fontSize={21} fill="#000">
              {'\u2133'}
              <tspan fontSize={14} dx={2} dy={3}>{e.sub}</tspan>
              <tspan dx={1} dy={-3}>{'-\u{1D49E}'}</tspan>
              {e.note ? <tspan dx={12} letterSpacing={0.5}>{e.note}</tspan> : null}
            </text>
          </g>
        );
      })}
    </svg>
  );
}

export default function App() {
  return (
    <div style={{ position: 'absolute', left: 0, top: 0, width: 1032, height: 471, background: '#fff', overflow: 'hidden' }}>
      <Overlay />
      <Panel box={MAIN_BOX}>
        {axes(MAIN_BOX, MAIN_V_DOMAIN, MAIN_P_DOMAIN, MAIN_V_TICKS, MAIN_P_TICKS, true)}
        {earlyBeats.map((b, i) => curve(`early${i}`, b, '#000', 1.6))}
        {lateBeats.map((b, i) => curve(`late${i}`, b, '#000', 2.4))}
        {curve('lc0d', limitCycle0D, ORANGE, 2.6)}
        {curve('c3d', cycle3D, GREEN, 4)}
        <ReferenceArea xAxisId="b" yAxisId="l" x1={TL_V[0]} x2={TL_V[1]} y1={TL_P[0]} y2={TL_P[1]} fill="none" stroke={GREY} strokeWidth={1.6} />
        <ReferenceArea xAxisId="b" yAxisId="l" x1={BL_V[0]} x2={BL_V[1]} y1={BL_P[0]} y2={BL_P[1]} fill="none" stroke={GREY} strokeWidth={1.6} />
        <ReferenceArea xAxisId="b" yAxisId="l" x1={TR_V[0]} x2={TR_V[1]} y1={TR_P[0]} y2={TR_P[1]} fill="none" stroke={GREY} strokeWidth={1.6} />
        <ReferenceArea xAxisId="b" yAxisId="l" x1={BR_V[0]} x2={BR_V[1]} y1={BR_P[0]} y2={BR_P[1]} fill="none" stroke={GREY} strokeWidth={1.6} />
      </Panel>
      <Panel box={TL_BOX}>
        {axes(TL_BOX, TL_V, TL_P, LEFT_V_TICKS, TL_P_TICKS)}
        {tlBlack.map((c, i) => curve(`tlk${i}`, c, '#000', 2, true))}
        {curve('tlo', tlOrange, ORANGE, 2.8, true)}
        {tlGreen.map((c, i) => curve(`tlg${i}`, c, GREEN, 3.6, true))}
      </Panel>
      <Panel box={BL_BOX}>
        {axes(BL_BOX, BL_V, BL_P, LEFT_V_TICKS, BL_P_TICKS)}
        {blBlack.map((c, i) => curve(`blk${i}`, c, '#000', 2, true))}
        {curve('blo', blOrange, ORANGE, 2.8, true)}
        {blGreen.map((c, i) => curve(`blg${i}`, c, GREEN, 4.4, true))}
      </Panel>
      <Panel box={TR_BOX}>
        {axes(TR_BOX, TR_V, TR_P, RIGHT_V_TICKS, TR_P_TICKS)}
        {trBlack.map((c, i) => curve(`trk${i}`, c, '#000', 2, true))}
        {curve('tro', trOrange, ORANGE, 2.8, true)}
        {curve('trgt', trGreenThin, GREEN, 2.4, true)}
        {trGreen.map((c, i) => curve(`trg${i}`, c, GREEN, 4.4, true))}
      </Panel>
      <Panel box={BR_BOX}>
        {axes(BR_BOX, BR_V, BR_P, RIGHT_V_TICKS, BR_P_TICKS)}
        {brBlack.map((c, i) => curve(`brk${i}`, c, '#000', 2, true))}
        {curve('bro', brOrange, ORANGE, 2.8, true)}
        {curve('brgt', brGreenThin, GREEN, 2.2, true)}
        {brGreen.map((c, i) => curve(`brg${i}`, c, GREEN, 3.6, true))}
      </Panel>
    </div>
  );
}
